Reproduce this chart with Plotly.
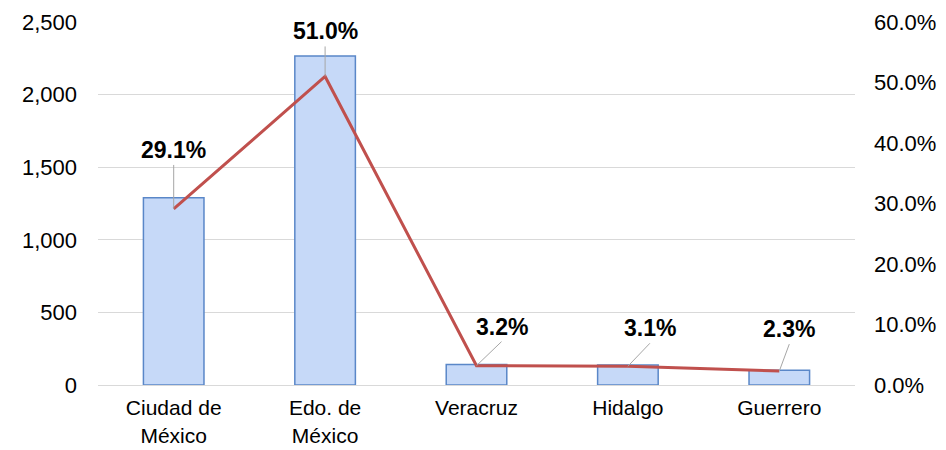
import plotly.graph_objects as go

categories = ["Ciudad de<br>México", "Edo. de<br>México", "Veracruz", "Hidalgo", "Guerrero"]
counts = [1290, 2265, 142, 138, 102]
shares = [0.291, 0.510, 0.032, 0.031, 0.023]
share_labels = ["29.1%", "51.0%", "3.2%", "3.1%", "2.3%"]
label_offsets_x = [0, 0, 25, 22, 10]
label_offsets_y = [-44, -30, -24, -23, -27]

fig = go.Figure()
fig.add_trace(go.Bar(
    x=categories, y=counts, width=0.4,
    marker=dict(color="#c6d9f8", line=dict(color="#5a87c8", width=1.5)),
    yaxis="y", hoverinfo="skip"))
fig.add_trace(go.Scatter(
    x=categories, y=shares, mode="lines",
    line=dict(color="#c0504d", width=3),
    yaxis="y2", hoverinfo="skip"))

for c, s, t, dx, dy in zip(categories, shares, share_labels, label_offsets_x, label_offsets_y):
    fig.add_annotation(
        x=c, y=s, xref="x", yref="y2", text="<b>%s</b>" % t,
        showarrow=True, arrowhead=0, arrowwidth=1, arrowcolor="#a6a6a6",
        ax=dx, ay=dy, font=dict(size=23, color="#000000"),
        yanchor="bottom", standoff=0)

fig.update_layout(
    width=938, height=442,
    margin=dict(l=90, r=91, t=14, b=65, autoexpand=False),
    paper_bgcolor="white", plot_bgcolor="white",
    showlegend=False,
    font=dict(family="Liberation Sans, Arial, sans-serif", size=22, color="#000000"),
    xaxis=dict(showgrid=False, showline=True, linecolor="#d9d9d9", linewidth=1,
               tickfont=dict(size=21), ticks="", automargin=False,
               ticklabelstandoff=4),
    yaxis=dict(range=[0, 2500], dtick=500, tickformat=",", showgrid=True,
               gridcolor="#d9d9d9", gridwidth=1, zeroline=False, automargin=False,
               tickfont=dict(size=22), ticklabelstandoff=20),
    yaxis2=dict(range=[0, 0.6], dtick=0.1, tickformat=".1%", overlaying="y",
                side="right", showgrid=False, zeroline=False, automargin=False,
                tickfont=dict(size=22), ticklabelstandoff=18),
)

fig.write_html("out.html")
